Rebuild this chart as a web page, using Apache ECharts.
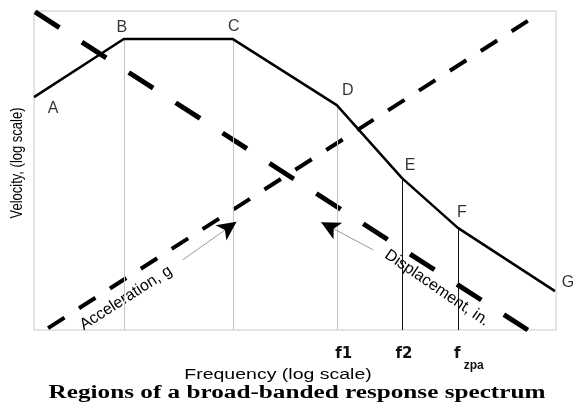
<!DOCTYPE html>
<html><head><meta charset="utf-8">
<script src="https://cdn.jsdelivr.net/npm/echarts@6.0.0/dist/echarts.min.js"></script>
<style>html,body{margin:0;padding:0;background:#fff}#c{width:578px;height:408px}</style>
</head><body><div id="c"></div>
<script>
// ---- data (abstract log-units, 0..100 on both axes) ----
const pointNames = ['A', 'B', 'C', 'D', 'E', 'F', 'G'];
const frequency = [0, 17.2, 38.1, 58.0, 70.5, 81.2, 99.8];
const velocity = [73.0, 91.2, 91.2, 70.5, 47.6, 32.0, 12.2];
const accelerationLine = [[2.7, 0.6], [94.6, 96.9]];
const displacementLine = [[0.2, 99.7], [94.6, 0]];
const tickNames = ['f1', 'f2', 'fzpa'];
const tickPointIndex = [3, 4, 5];
const accelArrow = [[28.5, 22.0], [38.8, 33.9]];
const dispArrow = [[65.0, 25.1], [55.0, 33.8]];

// ---- styling (kept apart from data) ----
const labelOffsets = [[19, 11], [-2, -11], [1, -12], [11, -15], [8, -13], [4, -15], [13, -8]];
const tickShift = [14, 4, 22];
const greyDrops = [1, 2, 3];
const blackDrops = [4, 5];

const chart = echarts.init(document.getElementById('c'), null, {renderer: 'canvas'});
const mainData = frequency.map((f, i) => [f, velocity[i]]);

const dropLines = [];
greyDrops.forEach(i => dropLines.push([{coord: [frequency[i], velocity[i]], lineStyle: {color: '#c4c4c4', width: 1, type: 'solid'}}, {coord: [frequency[i], 0]}]));
blackDrops.forEach(i => dropLines.push([{coord: [frequency[i], velocity[i]], lineStyle: {color: '#111', width: 1, type: 'solid'}}, {coord: [frequency[i], 0]}]));

const arrowLines = [];
[accelArrow, dispArrow].forEach(a => {
  arrowLines.push([{coord: a[0], symbol: 'none', lineStyle: {color: '#9a9a9a', width: 1, type: 'solid'}}, {coord: a[1], symbol: 'none'}]);
  arrowLines.push([{coord: a[0], symbol: 'none', lineStyle: {color: '#000', width: 0, type: 'solid'}}, {coord: a[1], symbol: 'arrow'}]);
});

const tickValues = tickPointIndex.map(i => frequency[i]);
const rich = {
  sub: {fontSize: 12, fontWeight: 'bold', fontFamily: 'Liberation Sans', color: '#111', lineHeight: 12, verticalAlign: 'bottom', padding: [0, 0, 0, 3]}
};
tickShift.forEach((s, k) => {
  rich['t' + k] = {fontSize: 15, fontWeight: 'bold', fontFamily: 'DejaVu Sans', color: '#111', lineHeight: 36, padding: [0, 0, 0, s]};
});

chart.setOption({
  animation: false,
  backgroundColor: '#fff',
  grid: {left: 34, right: 22, top: 11, bottom: 78, show: true, borderColor: '#c8c8c8', borderWidth: 1, containLabel: false},
  xAxis: {
    type: 'value', min: 0, max: 100,
    axisLine: {show: false}, axisTick: {show: false}, splitLine: {show: false},
    axisLabel: {
      customValues: tickValues, margin: 6, color: '#111',
      formatter: v => {
        const k = tickValues.findIndex(t => Math.abs(t - v) < 1e-6);
        if (k < 0) return '';
        const n = tickNames[k];
        return n === 'fzpa' ? '{t' + k + '|f}{sub|zpa}' : '{t' + k + '|' + n + '}';
      },
      rich: rich
    }
  },
  yAxis: {
    type: 'value', min: 0, max: 100,
    axisLine: {show: false}, axisTick: {show: false}, splitLine: {show: false}, axisLabel: {show: false}
  },
  series: [
    {
      type: 'line', data: mainData, symbol: 'none', z: 5,
      lineStyle: {color: '#000', width: 2.5},
      markLine: {silent: true, symbol: ['none', 'none'], label: {show: false}, animation: false, data: dropLines}
    },
    {
      type: 'line', data: accelerationLine, symbol: 'none', z: 4,
      lineStyle: {color: '#000', width: 4, type: [19.5, 17.2], cap: 'butt'}
    },
    {
      type: 'line', data: displacementLine, symbol: 'none', z: 4,
      lineStyle: {color: '#000', width: 5, type: [29, 26.8], cap: 'butt'},
      markLine: {silent: true, symbolSize: [14, 19], label: {show: false}, animation: false, data: arrowLines}
    },
    {
      type: 'scatter', z: 6, symbolSize: 1, itemStyle: {color: 'rgba(0,0,0,0)'},
      data: mainData.map((d, i) => ({value: d, name: pointNames[i],
        label: {show: true, position: 'inside', offset: labelOffsets[i], formatter: pointNames[i],
          color: '#000', fontFamily: 'Liberation Sans', fontSize: 16}}))
    }
  ],
  graphic: [
    {type: 'text', x: 17, y: 163, rotation: Math.PI / 2, scaleY: 1.3,
      style: {text: 'Velocity, (log scale)', font: '13px "Liberation Sans"', fill: '#000', align: 'center', verticalAlign: 'middle'}},
    {type: 'text', x: 126, y: 298, rotation: 0.57,
      style: {text: 'Acceleration, g', font: '16px "Liberation Sans"', fill: '#000', align: 'center', verticalAlign: 'middle'}},
    {type: 'text', x: 437, y: 288, rotation: -0.6,
      style: {text: 'Displacement, in.', font: '16px "Liberation Sans"', fill: '#000', align: 'center', verticalAlign: 'middle'}},
    {type: 'text', x: 278, y: 375, scaleX: 1.3,
      style: {text: 'Frequency (log scale)', font: '15px "Liberation Sans"', fill: '#000', align: 'center', verticalAlign: 'middle'}},
    {type: 'text', x: 297, y: 393, scaleX: 1.4,
      style: {text: 'Regions of a broad-banded response spectrum', font: 'bold 18px "Liberation Serif"', fill: '#000', align: 'center', verticalAlign: 'middle'}}
  ]
});
</script></body></html>
